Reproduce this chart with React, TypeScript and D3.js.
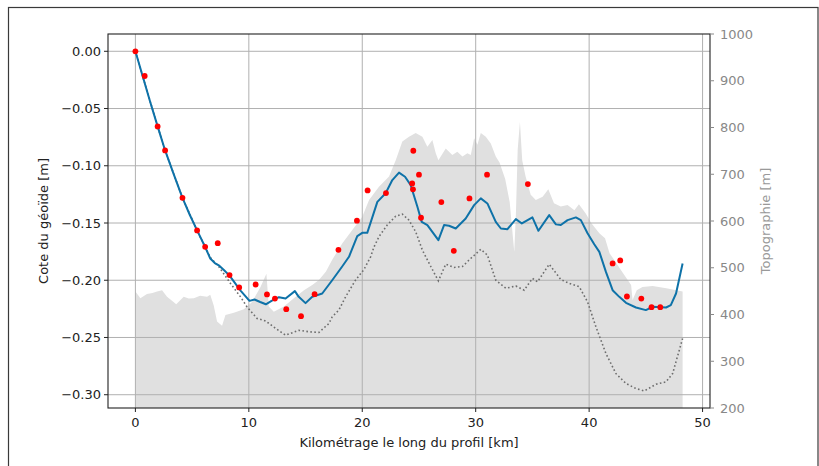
import React from 'react';
import * as d3 from 'd3';

// ---- data ----
const xTicks = [0, 10, 20, 30, 40, 50];
const geoidTicks = [0, -0.05, -0.1, -0.15, -0.2, -0.25, -0.3];
const topoTicks = [200, 300, 400, 500, 600, 700, 800, 900, 1000];

// red points: measured geoid height
const pointKm = [0, 0.82, 1.96, 2.62, 4.15, 5.44, 6.15, 7.26, 8.3, 9.15, 10.6, 11.6, 12.3, 13.3, 14.6,
  15.8, 17.9, 19.53, 20.47, 22.09, 24.4, 24.47, 24.5, 25.0, 25.18, 26.97, 28.07, 29.45, 31.0, 34.6,
  42.07, 42.74, 43.33, 44.6, 45.5, 46.27];
const pointGeoid = [0, -0.0216, -0.0656, -0.0866, -0.128, -0.1565, -0.1708, -0.1676, -0.1955, -0.2063,
  -0.2037, -0.2124, -0.216, -0.2253, -0.2314, -0.2122, -0.1734, -0.148, -0.1215, -0.1239, -0.1154,
  -0.1206, -0.0869, -0.1078, -0.1454, -0.1317, -0.1743, -0.1285, -0.1078, -0.116, -0.1853, -0.1827,
  -0.2142, -0.216, -0.2235, -0.2235];

// blue line: computed geoid
const modelLine: [number, number][] = [
  [0, 0], [0.65, -0.022], [1.3, -0.044], [1.96, -0.0656], [2.62, -0.0866], [3.4, -0.108],
  [4.15, -0.128], [4.8, -0.143], [5.44, -0.1565], [6.15, -0.171], [6.6, -0.181], [7.0, -0.185],
  [7.35, -0.187], [7.8, -0.191], [8.3, -0.196], [9.27, -0.209], [10.06, -0.218], [10.5, -0.2168],
  [11.0, -0.219], [11.5, -0.221], [12.0, -0.218], [12.65, -0.2148], [13.24, -0.216], [14.06, -0.2095],
  [14.4, -0.2145], [15.0, -0.22], [15.59, -0.2145], [16.47, -0.2116], [17.35, -0.2], [18.23, -0.188],
  [18.83, -0.1795], [19.56, -0.1615], [20.0, -0.1586], [20.44, -0.1586], [21.33, -0.1315],
  [22.06, -0.124], [22.65, -0.1125], [23.24, -0.106], [23.77, -0.1096], [24.27, -0.1169],
  [24.86, -0.1358], [25.24, -0.149], [25.74, -0.1518], [26.71, -0.165], [27.21, -0.1518],
  [27.65, -0.1524], [28.24, -0.1548], [29.12, -0.146], [29.86, -0.1344], [30.45, -0.1285],
  [31.03, -0.1329], [31.77, -0.149], [32.22, -0.1548], [32.8, -0.1554], [33.54, -0.1466],
  [34.07, -0.1504], [35.0, -0.1451], [35.53, -0.1568], [36.48, -0.1431], [37.07, -0.1512],
  [37.5, -0.1518], [38.1, -0.1475], [38.83, -0.1451], [39.27, -0.1475], [39.86, -0.159],
  [40.45, -0.1685], [40.9, -0.1752], [41.48, -0.1927], [42.07, -0.2087], [42.66, -0.2145],
  [43.25, -0.2197], [44.13, -0.2238], [45.0, -0.2261], [45.6, -0.2232], [46.78, -0.2238],
  [47.2, -0.2218], [47.66, -0.2116], [48.24, -0.1853],
];

// dotted line: second model
const dottedLine: [number, number][] = [
  [0, 0], [0.65, -0.022], [1.96, -0.0656], [2.62, -0.0866], [4.15, -0.128], [5.44, -0.1565],
  [6.15, -0.171], [6.6, -0.18], [7.35, -0.188], [8.38, -0.2028], [9.27, -0.2145], [9.85, -0.2235],
  [10.73, -0.2334], [11.47, -0.2355], [12.36, -0.242], [13.24, -0.248], [14.41, -0.2437],
  [15.3, -0.245], [16.18, -0.2456], [17.06, -0.2378], [17.35, -0.232], [17.94, -0.226],
  [18.53, -0.2145], [19.4, -0.2], [20.15, -0.1906], [20.74, -0.1795], [21.03, -0.171],
  [21.47, -0.162], [22.2, -0.1518], [22.95, -0.144], [23.53, -0.1422], [24.12, -0.1475],
  [24.71, -0.1577], [25.3, -0.1737], [26.04, -0.188], [26.71, -0.2005], [27.36, -0.186],
  [28.09, -0.1888], [28.83, -0.188], [29.56, -0.181], [30.45, -0.173], [31.03, -0.178],
  [31.77, -0.2], [32.66, -0.207], [33.54, -0.205], [34.27, -0.2087], [35.0, -0.1984],
  [35.45, -0.2014], [36.48, -0.186], [37.5, -0.1993], [38.25, -0.2028], [39.13, -0.2057],
  [39.86, -0.2189], [40.6, -0.2407], [41.48, -0.264], [42.36, -0.2815], [43.25, -0.2902],
  [44.13, -0.2946], [44.86, -0.2967], [45.9, -0.2908], [46.78, -0.2888], [47.36, -0.2815],
  [48.24, -0.2509],
];

// grey area: topography (right axis)
const topography: [number, number][] = [
  [0, 449], [0.44, 435], [1.02, 444], [1.5, 446], [1.91, 449], [2.35, 452], [2.79, 438],
  [3.2, 430], [3.6, 422], [4.26, 438], [4.7, 434], [5.15, 435], [5.7, 440], [6.32, 438],
  [6.6, 442], [6.9, 420], [7.2, 385], [7.64, 376], [7.94, 399], [8.68, 404], [9.56, 411],
  [10.29, 427], [11.03, 459], [11.55, 487], [11.76, 417], [12.2, 406], [13.09, 417],
  [13.97, 435], [14.86, 452], [15.59, 463], [16.18, 474], [16.8, 492], [17.35, 517],
  [18.23, 552], [19.12, 581], [20.0, 609], [20.6, 645], [21.47, 673], [22.36, 695],
  [22.95, 730], [23.53, 770], [24.12, 780], [24.71, 788], [25.3, 780], [25.74, 759],
  [26.18, 773], [26.48, 745], [26.71, 730], [27.36, 755], [27.94, 741], [28.38, 748],
  [28.83, 738], [29.27, 745], [29.57, 741], [29.86, 777], [30.15, 763], [30.45, 788],
  [30.89, 780], [31.33, 766], [31.77, 738], [32.1, 725], [32.6, 690], [33.0, 640],
  [33.3, 560], [33.4, 534], [33.55, 620], [33.7, 752], [33.9, 812], [34.1, 730], [34.4, 695],
  [34.85, 656], [35.3, 645], [35.9, 652], [36.4, 668], [36.9, 638], [37.5, 631], [38.1, 634],
  [38.7, 623], [39.1, 636], [39.7, 616], [40.2, 595], [40.9, 574], [41.4, 563], [41.8, 531],
  [42.2, 517], [42.8, 495], [43.4, 474], [43.7, 463], [43.83, 431], [44.2, 452], [44.7, 459],
  [45.6, 461], [46.8, 456], [47.7, 452], [48.24, 449],
];

const W = 819;
const H = 466;
const plot = { left: 108, right: 710, top: 34, bottom: 408 };
const font = '"DejaVu Sans", sans-serif';

export default function App() {
  const x = d3.scaleLinear().domain([-2.415, 50.655]).range([plot.left, plot.right]);
  const y = d3.scaleLinear().domain([-0.3116, 0.0151]).range([plot.bottom, plot.top]);
  const yTopo = d3.scaleLinear().domain([200, 1000]).range([plot.bottom, plot.top]);
  const fmt = d3.format('.2f');

  const line = d3.line<[number, number]>().x(d => x(d[0])).y(d => y(d[1]));
  const area = d3.area<[number, number]>()
    .x(d => x(d[0]))
    .y0(yTopo(200))
    .y1(d => yTopo(d[1]));

  return (
    <svg width={W} height={H} style={{ position: 'absolute', left: 0, top: 0, background: '#fff' }}
      fontFamily={font}>
      <rect x={8.5} y={7.5} width={809.5} height={470} fill="#fff" stroke="#3a3a3a" strokeWidth={1.2} />
      <defs>
        <clipPath id="plotclip">
          <rect x={plot.left} y={plot.top} width={plot.right - plot.left} height={plot.bottom - plot.top} />
        </clipPath>
      </defs>

      <g clipPath="url(#plotclip)">
        <path d={area(topography) || ''} fill="#e0e0e0" />
        {/* grid */}
        {xTicks.map(t => (
          <line key={'gx' + t} x1={x(t)} x2={x(t)} y1={plot.top} y2={plot.bottom} stroke="#b0b0b0" strokeWidth={1} />
        ))}
        {geoidTicks.map(t => (
          <line key={'gy' + t} x1={plot.left} x2={plot.right} y1={y(t)} y2={y(t)} stroke="#b0b0b0" strokeWidth={1} />
        ))}
        <path d={line(dottedLine) || ''} fill="none" stroke="#6e6e6e" strokeWidth={1.6}
          strokeDasharray="1.6,2.4" />
        <path d={line(modelLine) || ''} fill="none" stroke="#0e72a8" strokeWidth={2} strokeLinejoin="round" />
        {pointKm.map((k, i) => (
          <circle key={'p' + i} cx={x(k)} cy={y(pointGeoid[i])} r={2.9} fill="#ff0000" />
        ))}
      </g>

      {/* frame */}
      <rect x={plot.left} y={plot.top} width={plot.right - plot.left} height={plot.bottom - plot.top}
        fill="none" stroke="#222" strokeWidth={1.1} />

      {/* bottom axis */}
      {xTicks.map(t => (
        <g key={'xt' + t}>
          <line x1={x(t)} x2={x(t)} y1={plot.bottom} y2={plot.bottom + 4} stroke="#222" />
          <text x={x(t)} y={plot.bottom + 19} textAnchor="middle" fontSize={13} fill="#222">{t}</text>
        </g>
      ))}
      <text x={(plot.left + plot.right) / 2} y={447} textAnchor="middle" fontSize={13} fill="#222">
        Kilométrage le long du profil [km]
      </text>

      {/* left axis */}
      {geoidTicks.map(t => (
        <g key={'yt' + t}>
          <line x1={plot.left - 4} x2={plot.left} y1={y(t)} y2={y(t)} stroke="#222" />
          <text x={plot.left - 7} y={y(t) + 4.5} textAnchor="end" fontSize={13} fill="#222">{fmt(t)}</text>
        </g>
      ))}
      <text transform={`translate(48,${(plot.top + plot.bottom) / 2}) rotate(-90)`} textAnchor="middle"
        fontSize={13} fill="#222">Cote du géoïde [m]</text>

      {/* right axis */}
      {topoTicks.map(t => (
        <g key={'rt' + t}>
          <line x1={plot.right} x2={plot.right + 4} y1={yTopo(t)} y2={yTopo(t)} stroke="#888" />
          <text x={plot.right + 10} y={yTopo(t) + 4.5} fontSize={13} fill="#888">{t}</text>
        </g>
      ))}
      <text transform={`translate(770,${(plot.top + plot.bottom) / 2}) rotate(-90)`} textAnchor="middle"
        fontSize={13} fill="#999">Topographie [m]</text>
    </svg>
  );
}
